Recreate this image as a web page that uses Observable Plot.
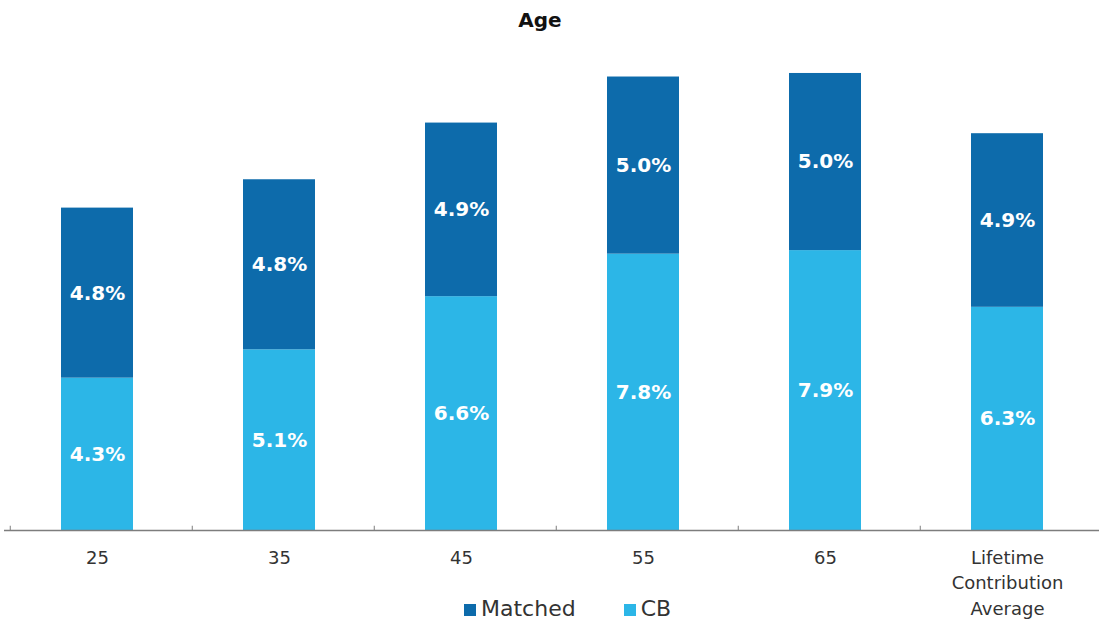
<!DOCTYPE html>
<html>
<head>
<meta charset="utf-8">
<script src="https://cdn.jsdelivr.net/npm/d3@7"></script>
<script src="https://cdn.jsdelivr.net/npm/@observablehq/plot@0.6"></script>
<style>
  html, body { margin: 0; padding: 0; background: #fff; }
  #wrap { position: relative; width: 1099px; height: 620px; font-family: "DejaVu Sans", sans-serif; }
  #title { position: absolute; top: 8px; left: 0; width: 1080px; text-align: center; font-weight: bold; font-size: 20px; color: #111; }
  #legend { position: absolute; top: 596px; left: 464px; display: flex; align-items: center; font-size: 22px; color: #333; }
  #legend .item { display: flex; align-items: center; margin-right: 48px; }
  #legend .sw { width: 12px; height: 12px; margin-right: 5px; margin-top: 3px; }
</style>
</head>
<body>
<div id="wrap">
  <div id="title">Age</div>
  <div id="chart"></div>
  <div id="legend"></div>
</div>
<script>
// Average contribution rate by age, split into CB and matched parts
const categories = ["25", "35", "45", "55", "65", "Lifetime Contribution Average"];
const cbValues = [4.3, 5.1, 6.6, 7.8, 7.9, 6.3];
const matchedValues = [4.8, 4.8, 4.9, 5.0, 5.0, 4.9];
const seriesNames = ["Matched", "CB"];
const seriesColors = ["#0d6bab", "#2cb6e7"];
const tickLabels = {
  "Lifetime Contribution Average": "Lifetime\nContribution\nAverage"
};

// CB rows first so that CB sits at the bottom of each stack
const rows = [
  ...categories.map((c, i) => ({category: c, series: "CB", value: cbValues[i]})),
  ...categories.map((c, i) => ({category: c, series: "Matched", value: matchedValues[i]}))
];

const width = 1099, height = 620;
const marginLeft = 4, marginRight = 0;
const step = (width - marginLeft - marginRight) / categories.length;

const chart = Plot.plot({
  width, height,
  marginTop: 34, marginBottom: 90, marginLeft, marginRight,
  style: {fontFamily: "DejaVu Sans, sans-serif", background: "#fff"},
  x: {domain: categories, padding: 0, label: null},
  y: {domain: [0, 14], axis: null},
  color: {domain: seriesNames, range: seriesColors},
  marks: [
    Plot.barY(rows, {
      x: "category", y: "value", fill: "series",
      insetLeft: 55, insetRight: 55
    }),
    Plot.text(rows, Plot.stackY({
      x: "category", y: "value", z: "series",
      text: d => d.value.toFixed(1) + "%",
      fill: "#fff", fontWeight: "bold", fontSize: 20
    })),
    Plot.ruleY([0], {stroke: "#7d7d7d", strokeWidth: 1.5}),
    // small ticks between categories
    Plot.ruleX(categories, {x: d => d, y1: 0, y2: 0.12, dx: -step / 2 + 4, stroke: "#7d7d7d"}),
    Plot.axisX({
      tickSize: 0, tickPadding: 15, fontSize: 18, lineHeight: 1.42,
      fill: "#333", label: null,
      tickFormat: d => tickLabels[d] ?? d
    })
  ]
});
document.getElementById("chart").append(chart);

const legend = document.getElementById("legend");
seriesNames.forEach((name, i) => {
  const item = document.createElement("div");
  item.className = "item";
  const sw = document.createElement("span");
  sw.className = "sw";
  sw.style.background = seriesColors[i];
  const label = document.createElement("span");
  label.textContent = name;
  item.append(sw, label);
  legend.append(item);
});
</script>
</body>
</html>
